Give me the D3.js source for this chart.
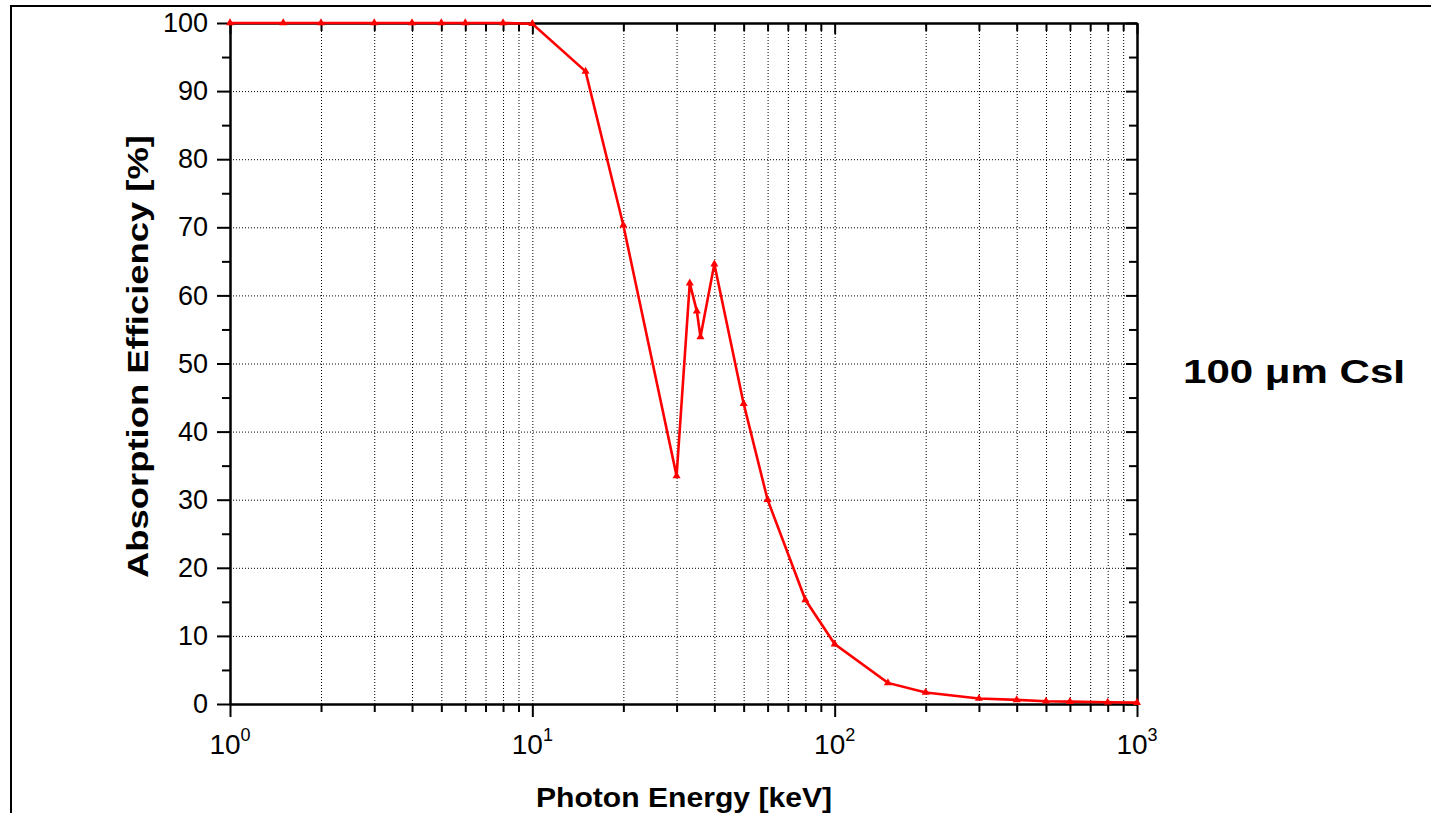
<!DOCTYPE html>
<html>
<head>
<meta charset="utf-8">
<script src="https://cdn.jsdelivr.net/npm/d3@7"></script>
<style>
  body { margin: 0; background: #fff; }
  svg { display: block; font-family: Arial, "Liberation Sans", sans-serif; }
  .grid line { stroke: #000; stroke-width: 1; stroke-dasharray: 1,2; }
  .grid path { display: none; }
  .axis path, .axis line { stroke: #000; stroke-width: 2; }
</style>
</head>
<body>
<div id="chart"></div>
<script>
// photon energy [keV] and absorption efficiency [%] for 100 um CsI
var energy = [1, 1.5, 2, 3, 4, 5, 6, 8, 10, 15, 20, 30, 33.17, 35, 35.98, 40,
              50, 60, 80, 100, 150, 200, 300, 400, 500, 600, 800, 1000];
var efficiency = [100, 100, 100, 100, 100, 100, 100, 100, 99.9, 92.9, 70.3, 33.5, 61.8, 57.7, 53.9, 64.6,
                  44.1, 30.0, 15.3, 8.8, 3.1, 1.7, 0.8, 0.6, 0.4, 0.35, 0.25, 0.2];
var decades = [0, 1, 2, 3];
var yMajor = [0, 10, 20, 30, 40, 50, 60, 70, 80, 90, 100];
var yMinor = [5, 15, 25, 35, 45, 55, 65, 75, 85, 95];

var w = 1431, h = 813;
var mLeft = 230, mRight = 1137, mTop = 23, mBottom = 704;

var dataset = energy.map(function(e, i) { return { e: e, v: efficiency[i] }; });

var xMinor = [];
[1, 10, 100].forEach(function(b) {
    for (var k = 2; k <= 9; k++) xMinor.push(b * k);
});
var xMajor = decades.map(function(p) { return Math.pow(10, p); });

var xScale = d3.scaleLog().domain([1, 1000]).range([mLeft, mRight]);
var yScale = d3.scaleLinear().domain([0, 100]).range([mBottom, mTop]);

var svg = d3.select("#chart").append("svg")
    .attr("width", w)
    .attr("height", h);

// outer frame
svg.append("rect")
    .attr("x", 11).attr("y", 6)
    .attr("width", w + 20).attr("height", h + 20)
    .attr("fill", "none")
    .attr("stroke", "#000")
    .attr("stroke-width", 2);

// grid
svg.append("g")
    .attr("class", "grid")
    .attr("transform", "translate(0," + mBottom + ")")
    .call(d3.axisBottom(xScale)
        .tickValues(xMinor.concat([10, 100]))
        .tickSize(-(mBottom - mTop))
        .tickFormat(""));

svg.append("g")
    .attr("class", "grid")
    .attr("transform", "translate(" + mLeft + ",0)")
    .call(d3.axisLeft(yScale)
        .tickValues(yMajor.slice(1, -1))
        .tickSize(-(mRight - mLeft))
        .tickFormat(""));

// axes: bottom (outward ticks)
svg.append("g").attr("class", "axis")
    .attr("transform", "translate(0," + mBottom + ")")
    .call(d3.axisBottom(xScale).tickValues(xMinor).tickSize(8).tickSizeOuter(0).tickFormat(""));
svg.append("g").attr("class", "axis")
    .attr("transform", "translate(0," + mBottom + ")")
    .call(d3.axisBottom(xScale).tickValues(xMajor).tickSize(13).tickSizeOuter(0).tickFormat(""));

// top (inward ticks)
svg.append("g").attr("class", "axis")
    .attr("transform", "translate(0," + mTop + ")")
    .call(d3.axisTop(xScale).tickValues(xMinor).tickSize(-8).tickSizeOuter(0).tickFormat(""));
svg.append("g").attr("class", "axis")
    .attr("transform", "translate(0," + mTop + ")")
    .call(d3.axisTop(xScale).tickValues(xMajor).tickSize(-11).tickSizeOuter(0).tickFormat(""));

// left (outward ticks)
svg.append("g").attr("class", "axis")
    .attr("transform", "translate(" + mLeft + ",0)")
    .call(d3.axisLeft(yScale).tickValues(yMinor).tickSize(8).tickSizeOuter(0).tickFormat(""));
svg.append("g").attr("class", "axis y-major")
    .attr("transform", "translate(" + mLeft + ",0)")
    .call(d3.axisLeft(yScale).tickValues(yMajor).tickSize(13).tickSizeOuter(0).tickPadding(9))
    .call(function(g) {
        g.selectAll("text")
            .attr("font-family", "Arial, 'Liberation Sans', sans-serif")
            .attr("font-size", 27)
            .attr("fill", "#000");
    });

// right (inward ticks)
svg.append("g").attr("class", "axis")
    .attr("transform", "translate(" + mRight + ",0)")
    .call(d3.axisRight(yScale).tickValues(yMinor).tickSize(-8).tickSizeOuter(0).tickFormat(""));
svg.append("g").attr("class", "axis")
    .attr("transform", "translate(" + mRight + ",0)")
    .call(d3.axisRight(yScale).tickValues(yMajor).tickSize(-11).tickSizeOuter(0).tickFormat(""));

// x tick labels 10^n
var xl = svg.append("g").selectAll("text.xlab")
    .data(decades)
    .enter().append("text")
    .attr("class", "xlab")
    .attr("x", function(d) { return xScale(Math.pow(10, d)); })
    .attr("y", 754)
    .attr("text-anchor", "middle")
    .attr("font-size", 28)
    .attr("fill", "#000");
xl.append("tspan").text("10");
xl.append("tspan")
    .attr("font-size", 18)
    .attr("dy", -13)
    .text(function(d) { return d; });

// data line
var line = d3.line()
    .x(function(d) { return xScale(d.e); })
    .y(function(d) { return yScale(d.v); });

svg.append("path")
    .datum(dataset)
    .attr("d", line)
    .attr("fill", "none")
    .attr("stroke", "#ff0000")
    .attr("stroke-width", 2.6)
    .attr("stroke-linejoin", "miter");

svg.selectAll("path.marker")
    .data(dataset)
    .enter().append("path")
    .attr("class", "marker")
    .attr("transform", function(d) { return "translate(" + xScale(d.e) + "," + yScale(d.v) + ")"; })
    .attr("d", d3.symbol(d3.symbolTriangle).size(28))
    .attr("fill", "#ff0000");

// labels
svg.append("text")
    .attr("x", 536)
    .attr("y", 807)
    .attr("font-size", 28)
    .attr("font-weight", "bold")
    .attr("textLength", 296)
    .attr("lengthAdjust", "spacingAndGlyphs")
    .text("Photon Energy [keV]");

svg.append("text")
    .attr("transform", "translate(148,578) rotate(-90)")
    .attr("font-size", 30)
    .attr("font-weight", "bold")
    .attr("textLength", 443)
    .attr("lengthAdjust", "spacingAndGlyphs")
    .text("Absorption Efficiency [%]");

svg.append("text")
    .attr("x", 1183)
    .attr("y", 383)
    .attr("font-size", 34)
    .attr("font-weight", "bold")
    .attr("textLength", 222)
    .attr("lengthAdjust", "spacingAndGlyphs")
    .text("100 \u03bcm CsI");
</script>
</body>
</html>
